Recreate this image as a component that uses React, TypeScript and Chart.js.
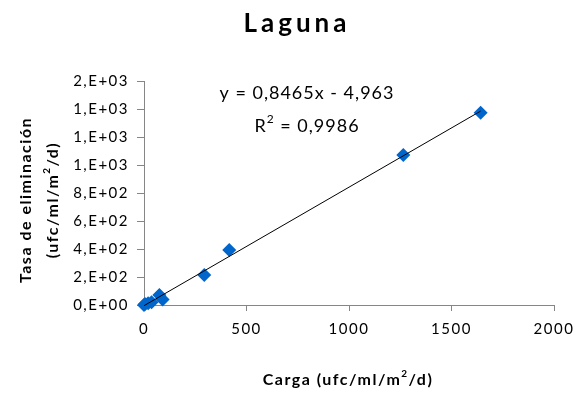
import React, { useEffect, useRef } from "react";
import { Chart, registerables } from "chart.js";

Chart.register(...registerables);

const chartTitle = "Laguna";
const xTitle: [string, boolean][] = [["Carga (ufc/ml/m", false], ["2", true], ["/d)", false]];
const yTitle1 = "Tasa de eliminación";
const yTitle2: [string, boolean][] = [["(ufc/ml/m", false], ["2", true], ["/d)", false]];
const equation = "y = 0,8465x - 4,963";
const r2Value = "= 0,9986";

const cargaX = [0, 5, 20, 37, 75, 91, 294, 416, 1265, 1642];
const tasaY = [0, 7, 12, 19, 71, 40, 214, 393, 1071, 1374];

const slope = 0.8465;
const intercept = -4.963;

const yTickValues = [0, 200, 400, 600, 800, 1000, 1200, 1400, 1600];
const yTickLabels = ["0,E+00", "2,E+02", "4,E+02", "6,E+02", "8,E+02", "1,E+03", "1,E+03", "1,E+03", "2,E+03"];
const xTickValues = [0, 500, 1000, 1500, 2000];

const FONT = "Lato, 'Liberation Sans', sans-serif";

function drawSegments(ctx: CanvasRenderingContext2D, segs: [string, boolean][], cx: number, cy: number, size: number, bold: boolean) {
  const w = bold ? "bold " : "";
  let total = 0;
  for (const [t, sup] of segs) {
    ctx.font = `${w}${sup ? Math.round(size * 0.65) : size}px ${FONT}`;
    total += ctx.measureText(t).width;
  }
  let x = cx - total / 2;
  ctx.textAlign = "left";
  ctx.textBaseline = "middle";
  for (const [t, sup] of segs) {
    ctx.font = `${w}${sup ? Math.round(size * 0.65) : size}px ${FONT}`;
    ctx.fillText(t, x, sup ? cy - size * 0.4 : cy);
    x += ctx.measureText(t).width;
  }
}

const spacingPlugin = {
  id: "spacing",
  beforeInit(chart: any) {
    (chart.ctx as any).letterSpacing = "1.5px";
  },
  beforeUpdate(chart: any) {
    (chart.ctx as any).letterSpacing = "1.5px";
  },
  beforeDraw(chart: any) {
    (chart.ctx as any).letterSpacing = "1.5px";
  },
};

const textPlugin = {
  id: "texts",
  afterDraw(chart: any) {
    const ctx: CanvasRenderingContext2D = chart.ctx;
    ctx.save();
    ctx.fillStyle = "#000";
    (ctx as any).letterSpacing = "0px";
    ctx.font = `bold 26px ${FONT}`;
    const sp = 4;
    let tw = 0;
    for (const ch of chartTitle) tw += ctx.measureText(ch).width + sp;
    tw -= sp;
    let tx = 295 - tw / 2;
    ctx.textAlign = "left";
    ctx.textBaseline = "middle";
    for (const ch of chartTitle) {
      ctx.fillText(ch, tx, 24);
      tx += ctx.measureText(ch).width + sp;
    }
    (ctx as any).letterSpacing = "1px";
    ctx.font = `18px ${FONT}`;
    ctx.textAlign = "center";
    ctx.fillText(equation, 307, 93);
    drawSegments(ctx, [["R", false], ["2", true], [" " + r2Value, false]], 307, 126, 18, false);
    (ctx as any).letterSpacing = "1.5px";
    drawSegments(ctx, xTitle, 348, 380, 16, true);
    ctx.translate(26, 200);
    ctx.rotate(-Math.PI / 2);
    ctx.font = `bold 16px ${FONT}`;
    ctx.textAlign = "center";
    ctx.fillText(yTitle1, 0, 0);
    drawSegments(ctx, yTitle2, 0, 27, 16, true);
    ctx.restore();
  },
};

export default function App() {
  const ref = useRef<HTMLCanvasElement>(null);
  useEffect(() => {
    document.body.style.margin = "0";
    const points = cargaX.map((x, i) => ({ x, y: tasaY[i] }));
    const xMin = Math.min(...cargaX);
    const xMax = Math.max(...cargaX);
    const trend = [
      { x: xMin, y: slope * xMin + intercept },
      { x: xMax, y: slope * xMax + intercept },
    ];
    const chart = new Chart(ref.current!, {
      type: "scatter",
      data: {
        datasets: [
          {
            type: "line",
            data: trend,
            borderColor: "#000",
            borderWidth: 1,
            pointRadius: 0,
            fill: false,
            clip: false,
          } as any,
          {
            data: points,
            pointStyle: "rectRot",
            pointRadius: 7,
            backgroundColor: "#0066CC",
            borderColor: "#0066CC",
            borderWidth: 0,
            clip: false,
          } as any,
        ],
      },
      options: {
        animation: false,
        responsive: false,
        layout: { padding: { left: 0, top: 81, right: 32, bottom: 0 } },
        plugins: { legend: { display: false }, tooltip: { enabled: false }, title: { display: false } },
        scales: {
          x: {
            type: "linear",
            min: 0,
            max: 2000,
            afterBuildTicks: (s: any) => {
              s.ticks = xTickValues.map((v) => ({ value: v }));
            },
            afterFit: (s: any) => {
              s.height = 91;
            },
            grid: { display: true, drawOnChartArea: false, drawTicks: true, tickLength: 6, color: "#868686" },
            border: { color: "#868686" },
            ticks: {
              color: "#000",
              font: { family: FONT, size: 15 },
              padding: 9,
              maxRotation: 0,
              callback: (v: any) => String(v),
            },
          },
          y: {
            type: "linear",
            min: 0,
            max: 1600,
            afterBuildTicks: (s: any) => {
              s.ticks = yTickValues.map((v) => ({ value: v }));
            },
            afterFit: (s: any) => {
              s.width = 144;
            },
            grid: { display: true, drawOnChartArea: false, drawTicks: true, tickLength: 7, color: "#868686" },
            border: { color: "#868686" },
            ticks: {
              color: "#000",
              font: { family: FONT, size: 15 },
              padding: 8,
              callback: (v: any) => {
                const i = yTickValues.indexOf(Number(v));
                return i >= 0 ? yTickLabels[i] : "";
              },
            },
          },
        },
      },
      plugins: [spacingPlugin, textPlugin],
    });
    return () => chart.destroy();
  }, []);
  return <canvas ref={ref} width={586} height={396} style={{ display: "block" }} />;
}
